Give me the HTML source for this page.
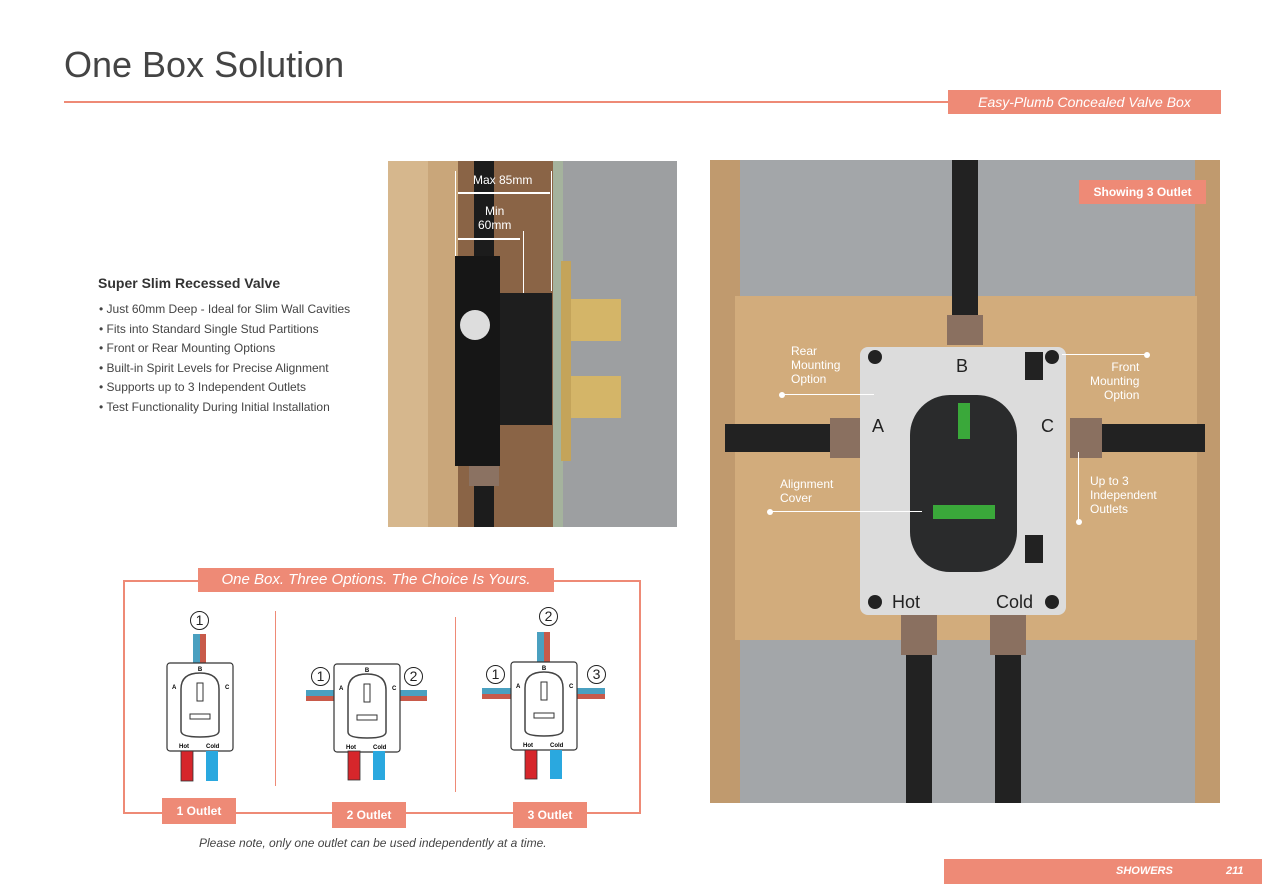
<!DOCTYPE html>
<html><head><meta charset="utf-8"><style>
*{margin:0;padding:0;box-sizing:border-box}
body{width:1262px;height:892px;background:#fff;position:relative;overflow:hidden;font-family:"Liberation Sans",sans-serif}
.a{position:absolute}
.sal{background:#ee8a76;color:#fff}
.lbl{color:#fff;font-size:12px;line-height:14px;position:absolute}
.dot{position:absolute;width:6px;height:6px;border-radius:50%;background:#fff}
.ln{position:absolute;background:#fff}
ul{list-style:none}
li{font-size:12px;color:#444;line-height:19.5px}
.num{position:absolute;width:19px;height:19px;border:1.3px solid #222;border-radius:50%;font-size:14px;text-align:center;line-height:17px;color:#222;background:#fff}
.olab{position:absolute;height:26px;font-size:12px;font-weight:bold;text-align:center;line-height:26px}
</style></head><body>
<div class="a" style="left:64px;top:44px;font-size:36px;color:#444">One Box Solution</div>
<div class="a" style="left:64px;top:101px;width:1156px;height:2px;background:#ee8a76"></div>
<div class="a sal" style="left:948px;top:90px;width:273px;height:24px;font-style:italic;font-size:14px;text-align:center;line-height:24px">Easy-Plumb Concealed Valve Box</div>

<div class="a" style="left:98px;top:275px;font-size:14px;font-weight:bold;color:#333">Super Slim Recessed Valve</div>
<ul class="a" style="left:99px;top:300px">
<li>• Just 60mm Deep - Ideal for Slim Wall Cavities</li>
<li>• Fits into Standard Single Stud Partitions</li>
<li>• Front or Rear Mounting Options</li>
<li>• Built-in Spirit Levels for Precise Alignment</li>
<li>• Supports up to 3 Independent Outlets</li>
<li>• Test Functionality During Initial Installation</li>
</ul>

<!-- side photo -->
<div class="a" style="left:388px;top:161px;width:289px;height:366px;background:#8a6446;overflow:hidden">
 <div class="a" style="left:0;top:0;width:70px;height:366px;background:#c9a67a"></div>
 <div class="a" style="left:0;top:0;width:40px;height:366px;background:#d6b78d"></div>
 <div class="a" style="left:165px;top:0;width:10px;height:366px;background:#a5b39d"></div>
 <div class="a" style="left:175px;top:0;width:114px;height:366px;background:#9d9fa1"></div>
 <div class="a" style="left:86px;top:0;width:20px;height:366px;background:#1c1c1c"></div>
 <div class="a" style="left:67px;top:95px;width:45px;height:210px;background:#161616"></div>
 <div class="a" style="left:112px;top:132px;width:52px;height:132px;background:#1e1e1e"></div>
 <div class="a" style="left:72px;top:149px;width:30px;height:30px;border-radius:50%;background:#ddd"></div>
 <div class="a" style="left:173px;top:100px;width:10px;height:200px;background:#c4a45a"></div>
 <div class="a" style="left:183px;top:138px;width:50px;height:42px;background:#d4b568"></div>
 <div class="a" style="left:183px;top:215px;width:50px;height:42px;background:#d4b568"></div>
 <div class="a" style="left:81px;top:305px;width:30px;height:20px;background:#8b7262"></div>
 <div class="lbl" style="left:85px;top:12px">Max 85mm</div>
 <div class="ln" style="left:67px;top:10px;width:1px;height:85px"></div>
 <div class="ln" style="left:163px;top:10px;width:1px;height:120px"></div>
 <div class="ln" style="left:70px;top:31px;width:92px;height:2px"></div>
 <div class="lbl" style="left:90px;top:43px;text-align:center">Min<br>60mm</div>
 <div class="ln" style="left:70px;top:77px;width:62px;height:2px"></div>
 <div class="ln" style="left:135px;top:70px;width:1px;height:62px"></div>
</div>

<!-- big photo -->
<div class="a" style="left:710px;top:160px;width:510px;height:643px;background:#a3a6a9;overflow:hidden">
 <div class="a" style="left:0;top:0;width:30px;height:643px;background:#c09a6e"></div>
 <div class="a" style="left:485px;top:0;width:25px;height:643px;background:#c09a6e"></div>
 <div class="a" style="left:25px;top:136px;width:462px;height:344px;background:#d2ac7c"></div>
 <div class="a" style="left:242px;top:0;width:26px;height:170px;background:#222"></div>
 <div class="a" style="left:237px;top:155px;width:36px;height:30px;background:#8a7060"></div>
 <div class="a" style="left:196px;top:470px;width:26px;height:173px;background:#222"></div>
 <div class="a" style="left:285px;top:470px;width:26px;height:173px;background:#222"></div>
 <div class="a" style="left:191px;top:455px;width:36px;height:40px;background:#8a7060"></div>
 <div class="a" style="left:280px;top:455px;width:36px;height:40px;background:#8a7060"></div>
 <div class="a" style="left:15px;top:264px;width:120px;height:28px;background:#222"></div>
 <div class="a" style="left:370px;top:264px;width:125px;height:28px;background:#222"></div>
 <div class="a" style="left:120px;top:258px;width:32px;height:40px;background:#8a7060"></div>
 <div class="a" style="left:360px;top:258px;width:32px;height:40px;background:#8a7060"></div>
 <div class="a" style="left:150px;top:187px;width:206px;height:268px;background:#dcdcdc;border-radius:8px"></div>
 <div class="a" style="left:200px;top:235px;width:107px;height:177px;background:#2a2b2c;border-radius:40px"></div>
 <div class="a" style="left:248px;top:243px;width:12px;height:36px;background:#3aa83a"></div>
 <div class="a" style="left:223px;top:345px;width:62px;height:14px;background:#3aa83a"></div>
 <div class="a" style="left:315px;top:192px;width:18px;height:28px;background:#222"></div>
 <div class="a" style="left:315px;top:375px;width:18px;height:28px;background:#222"></div>
 <div class="a" style="left:158px;top:190px;width:14px;height:14px;border-radius:50%;background:#222"></div>
 <div class="a" style="left:335px;top:190px;width:14px;height:14px;border-radius:50%;background:#222"></div>
 <div class="a" style="left:158px;top:435px;width:14px;height:14px;border-radius:50%;background:#222"></div>
 <div class="a" style="left:335px;top:435px;width:14px;height:14px;border-radius:50%;background:#222"></div>
 <div class="a" style="left:246px;top:196px;font-size:18px;color:#222">B</div>
 <div class="a" style="left:162px;top:256px;font-size:18px;color:#222">A</div>
 <div class="a" style="left:331px;top:256px;font-size:18px;color:#222">C</div>
 <div class="a" style="left:182px;top:432px;font-size:18px;color:#222">Hot</div>
 <div class="a" style="left:286px;top:432px;font-size:18px;color:#222">Cold</div>
 <div class="a sal" style="left:369px;top:20px;width:127px;height:24px;font-size:12px;font-weight:bold;text-align:center;line-height:24px">Showing 3 Outlet</div>
 <div class="lbl" style="left:81px;top:184px">Rear<br>Mounting<br>Option</div>
 <div class="dot" style="left:69px;top:232px"></div><div class="ln" style="left:72px;top:234px;width:92px;height:1px"></div>
 <div class="lbl" style="left:380px;top:200px;text-align:right">Front<br>Mounting<br>&nbsp;Option</div>
 <div class="dot" style="left:434px;top:192px"></div><div class="ln" style="left:352px;top:194px;width:84px;height:1px"></div>
 <div class="lbl" style="left:70px;top:317px">Alignment<br>Cover</div>
 <div class="dot" style="left:57px;top:349px"></div><div class="ln" style="left:60px;top:351px;width:152px;height:1px"></div>
 <div class="lbl" style="left:380px;top:314px">Up to 3<br>Independent<br>Outlets</div>
 <div class="dot" style="left:366px;top:359px"></div><div class="ln" style="left:368px;top:292px;width:1px;height:68px"></div>
</div>

<!-- options panel -->
<div class="a" style="left:123px;top:580px;width:518px;height:234px;border:2px solid #ee8a76"></div>
<div class="a sal" style="left:198px;top:568px;width:356px;height:24px;font-style:italic;font-size:15px;text-align:center;line-height:24px">One Box. Three Options. The Choice Is Yours.</div>
<div class="a" style="left:275px;top:611px;width:1px;height:175px;background:#ee8a76"></div>
<div class="a" style="left:455px;top:617px;width:1px;height:175px;background:#ee8a76"></div>

<svg class="a" style="left:0;top:0" width="1262" height="892">
<defs>
<g id="bx">
 <rect x="0" y="0" width="66" height="88" rx="3" fill="#fff" stroke="#333" stroke-width="1.2"/>
 <path d="M14 26 Q14 10 33 10 Q52 10 52 26 L52 68 Q52 74 33 74 Q14 74 14 68Z" fill="#fff" stroke="#444" stroke-width="1.5"/>
 <rect x="30" y="20" width="6" height="18" fill="none" stroke="#333"/>
 <rect x="23" y="51" width="20" height="5" fill="none" stroke="#333"/>
 <text x="33" y="8" font-size="6" font-weight="bold" text-anchor="middle" font-family="Liberation Sans">B</text>
 <text x="5" y="26" font-size="6" font-weight="bold" font-family="Liberation Sans">A</text>
 <text x="58" y="26" font-size="6" font-weight="bold" font-family="Liberation Sans">C</text>
 <text x="12" y="85" font-size="6" font-weight="bold" font-family="Liberation Sans">Hot</text>
 <text x="39" y="85" font-size="6" font-weight="bold" font-family="Liberation Sans">Cold</text>
</g>
</defs>
<!-- diag1 -->
<rect x="193" y="634" width="13" height="29" fill="#4aa0c0"/><rect x="200" y="634" width="6" height="29" fill="#c85a4a"/>
<use href="#bx" x="167" y="663"/>
<rect x="181" y="751" width="12" height="30" fill="#d6262b" stroke="#333" stroke-width=".8"/>
<rect x="206" y="751" width="12" height="30" fill="#2aa8df"/>
<!-- diag2 -->
<rect x="306" y="690" width="29" height="11" fill="#4aa0c0"/><rect x="306" y="696" width="29" height="5" fill="#c85a4a"/>
<rect x="398" y="690" width="29" height="11" fill="#4aa0c0"/><rect x="398" y="696" width="29" height="5" fill="#c85a4a"/>
<use href="#bx" x="334" y="664"/>
<rect x="348" y="751" width="12" height="29" fill="#d6262b" stroke="#333" stroke-width=".8"/>
<rect x="373" y="751" width="12" height="29" fill="#2aa8df"/>
<!-- diag3 -->
<rect x="537" y="632" width="13" height="30" fill="#4aa0c0"/><rect x="544" y="632" width="6" height="30" fill="#c85a4a"/>
<rect x="482" y="688" width="29" height="11" fill="#4aa0c0"/><rect x="482" y="694" width="29" height="5" fill="#c85a4a"/>
<rect x="576" y="688" width="29" height="11" fill="#4aa0c0"/><rect x="576" y="694" width="29" height="5" fill="#c85a4a"/>
<use href="#bx" x="511" y="662"/>
<rect x="525" y="750" width="12" height="29" fill="#d6262b" stroke="#333" stroke-width=".8"/>
<rect x="550" y="750" width="12" height="29" fill="#2aa8df"/>
</svg>
<div class="num" style="left:190px;top:611px">1</div>
<div class="num" style="left:311px;top:667px">1</div>
<div class="num" style="left:404px;top:667px">2</div>
<div class="num" style="left:539px;top:607px">2</div>
<div class="num" style="left:486px;top:665px">1</div>
<div class="num" style="left:587px;top:665px">3</div>
<div class="olab sal" style="left:162px;top:798px;width:74px">1 Outlet</div>
<div class="olab sal" style="left:332px;top:802px;width:74px">2 Outlet</div>
<div class="olab sal" style="left:513px;top:802px;width:74px">3 Outlet</div>
<div class="a" style="left:199px;top:836px;font-size:12px;font-style:italic;color:#444">Please note, only one outlet can be used independently at a time.</div>

<div class="a sal" style="left:944px;top:859px;width:318px;height:25px;font-size:11px;font-style:italic;font-weight:bold;line-height:25px"><span style="position:absolute;left:172px">SHOWERS</span><span style="position:absolute;left:282px">211</span></div>
</body></html>
